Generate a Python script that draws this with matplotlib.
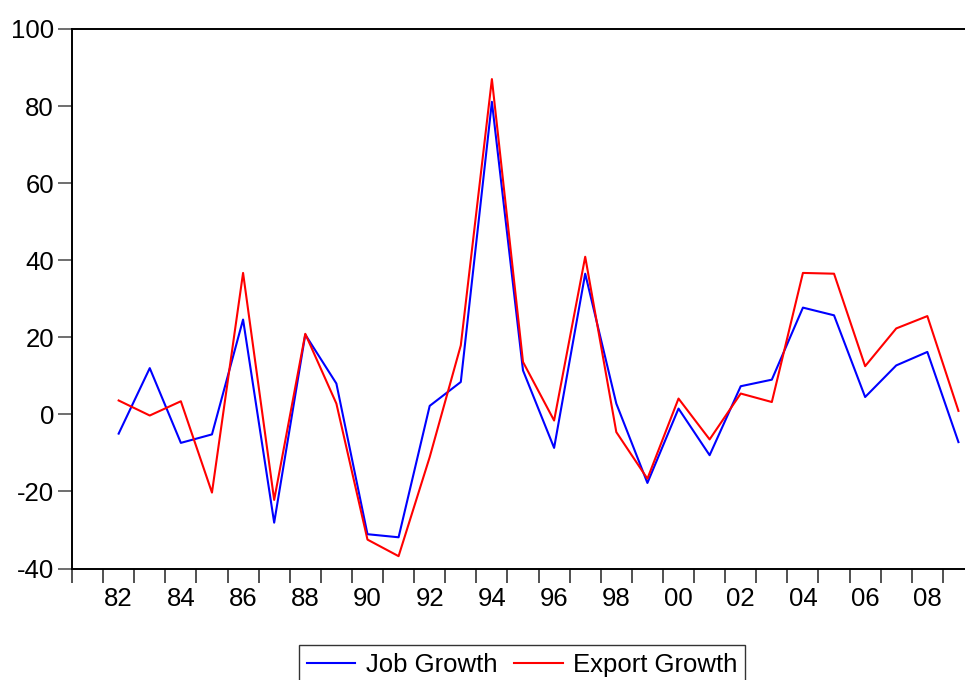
import matplotlib.pyplot as plt
import numpy as np

# EViews style line chart, job growth vs export growth
plt.rcParams['font.family'] = ['Liberation Sans', 'DejaVu Sans']

years = list(range(1982, 2010))
job_growth = [-5.0, 12.0, -7.4, -5.2, 24.6, -28.1, 20.7, 8.0, -31.1, -31.9,
              2.2, 8.4, 81.1, 11.4, -8.7, 36.5, 2.8, -17.8, 1.5, -10.6,
              7.3, 9.0, 27.7, 25.7, 4.5, 12.7, 16.2, -7.2]
export_growth = [3.6, -0.3, 3.4, -20.3, 36.7, -22.2, 20.9, 2.8, -32.5, -36.8,
                 -11.1, 17.9, 87.0, 13.6, -1.6, 40.9, -4.6, -16.7, 4.1, -6.5,
                 5.4, 3.2, 36.7, 36.5, 12.5, 22.3, 25.5, 0.9]
y_ticks = [-40, -20, 0, 20, 40, 60, 80, 100]

W, H = 965, 680
fs = 18.5
fig = plt.figure(figsize=(W / 100, H / 100), dpi=100)
# axes runs a bit past the right edge, like the cropped original
ax = fig.add_axes([72 / W, (H - 568.5) / H, (974 - 72) / W, (568.5 - 29) / H])

# points sit in the middle of each year
x = np.array(years) + 0.5
ax.plot(x, job_growth, color='#0000ff', lw=1.5, label='Job Growth')
ax.plot(x, export_growth, color='#ff0000', lw=1.5, label='Export Growth')

ax.set_xlim(1981, 2010)
ax.set_ylim(-40, 100)
ax.set_yticks(y_ticks)
ax.set_yticklabels([str(v) for v in y_ticks])

# year boundaries get tick marks, labels go in between every other year
ax.set_xticks(np.arange(1981, 2011))
ax.set_xticklabels([])
lab_years = [y for y in years if y % 2 == 0]
ax.set_xticks([y + 0.5 for y in lab_years], minor=True)
ax.set_xticklabels(['%02d' % (y % 100) for y in lab_years], minor=True)

ax.tick_params(axis='x', which='major', direction='out', length=10, width=1.2, color='#333333')
ax.tick_params(axis='x', which='minor', length=0, pad=13, labelsize=fs)
ax.tick_params(axis='y', direction='out', length=10, width=1.2, color='#555555', labelsize=fs, pad=3)

for s in ax.spines.values():
    s.set_linewidth(1.4)
    s.set_color('black')

leg = ax.legend(loc='upper center', bbox_to_anchor=(522 / W, (H - 645) / H),
                bbox_transform=fig.transFigure, ncol=2, fontsize=fs, frameon=True,
                fancybox=False, edgecolor='black', handlelength=1.9,
                columnspacing=0.65, handletextpad=0.4, borderpad=0.3, borderaxespad=0)
leg.get_frame().set_linewidth(1.0)

fig.savefig('out.png', dpi=100)
